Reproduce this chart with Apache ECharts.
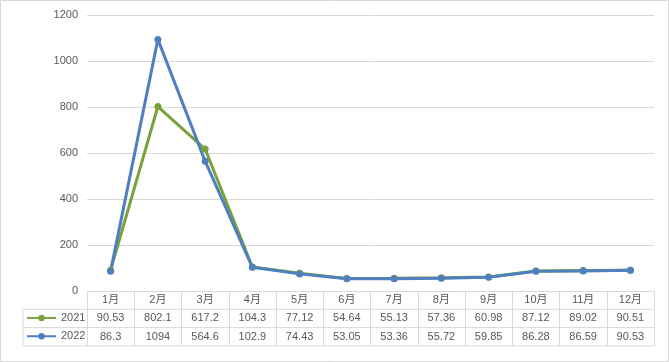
<!DOCTYPE html>
<html><head><meta charset="utf-8">
<script src="https://cdn.jsdelivr.net/npm/echarts@6/dist/echarts.min.js"></script>
<style>html,body{margin:0;padding:0;background:#fff}#c{width:669px;height:362px}</style>
</head><body><div id="c"></div>
<script>
const categories = ['1月','2月','3月','4月','5月','6月','7月','8月','9月','10月','11月','12月'];
const s2021 = [90.53, 802.1, 617.2, 104.3, 77.12, 54.64, 55.13, 57.36, 60.98, 87.12, 89.02, 90.51];
const s2022 = [86.3, 1094, 564.6, 102.9, 74.43, 53.05, 53.36, 55.72, 59.85, 86.28, 86.59, 90.53];
const l2021 = ['90.53','802.1','617.2','104.3','77.12','54.64','55.13','57.36','60.98','87.12','89.02','90.51'];
const l2022 = ['86.3','1094','564.6','102.9','74.43','53.05','53.36','55.72','59.85','86.28','86.59','90.53'];
const yTicks = [0,200,400,600,800,1000,1200];

const W = 669, H = 362;
const gLeft = 87, gRight = 15, gTop = 15, gBottom = 71;
const tableTop = H - gBottom, rowH = 18.3, tableLeft = 23;
const tableRight = W - gRight;
const green = '#7AA23B', blue = '#4E7FC0', gray = '#D9D9D9', txt = '#595959';
const font = "'Liberation Sans','Noto Sans CJK SC',sans-serif";
const fs = 11;

const chart = echarts.init(document.getElementById('c'));
const hl = (y, x1) => ({type:'line', silent:true, shape:{x1:x1, y1:y, x2:tableRight, y2:y}, style:{stroke:gray, lineWidth:1}});
chart.setOption({
  animation:false,
  textStyle:{fontFamily:font},
  grid:{left:gLeft, right:gRight, top:gTop, bottom:gBottom},
  legend:[
    {data:['2021'], left:26, top:tableTop+rowH*1.5-6, padding:0, itemWidth:29, itemHeight:8, itemGap:4,
     textStyle:{color:txt, fontSize:fs, fontFamily:font}},
    {data:['2022'], left:26, top:tableTop+rowH*2.5-6, padding:0, itemWidth:29, itemHeight:8, itemGap:4,
     textStyle:{color:txt, fontSize:fs, fontFamily:font}}
  ],
  xAxis:{type:'category', data:categories, boundaryGap:true,
    axisLine:{show:true, lineStyle:{color:gray}},
    axisTick:{show:true, length:rowH*3, lineStyle:{color:gray}},
    axisLabel:{interval:0, margin:0,
      formatter:(v, i) => `{h|${v}}\n{a|${l2021[i]}}\n{a|${l2022[i]}}`,
      rich:{h:{lineHeight:rowH, fontSize:fs, color:txt, fontFamily:font},
            a:{lineHeight:rowH, fontSize:fs, color:txt, fontFamily:font}}}
  },
  yAxis:{type:'value', min:yTicks[0], max:yTicks[yTicks.length-1], interval:200,
    axisLine:{show:false}, axisTick:{show:false},
    axisLabel:{color:txt, fontSize:fs, margin:9, fontFamily:font, formatter:v => String(v)},
    splitLine:{lineStyle:{color:gray}}
  },
  series:[
    {name:'2021', type:'line', data:s2021, symbol:'circle', symbolSize:7, lineStyle:{width:3, color:green}, itemStyle:{color:green}},
    {name:'2022', type:'line', data:s2022, symbol:'circle', symbolSize:7, lineStyle:{width:3, color:blue}, itemStyle:{color:blue}}
  ],
  graphic:[
    hl(tableTop+rowH, tableLeft), hl(tableTop+rowH*2, tableLeft), hl(tableTop+rowH*3, tableLeft),
    {type:'line', silent:true, shape:{x1:tableLeft, y1:tableTop+rowH, x2:tableLeft, y2:tableTop+rowH*3}, style:{stroke:gray, lineWidth:1}},
    {type:'rect', silent:true, shape:{x:0.5, y:0.5, width:W-1, height:H-1}, style:{fill:'none', stroke:gray, lineWidth:1}}
  ]
});
</script></body></html>
